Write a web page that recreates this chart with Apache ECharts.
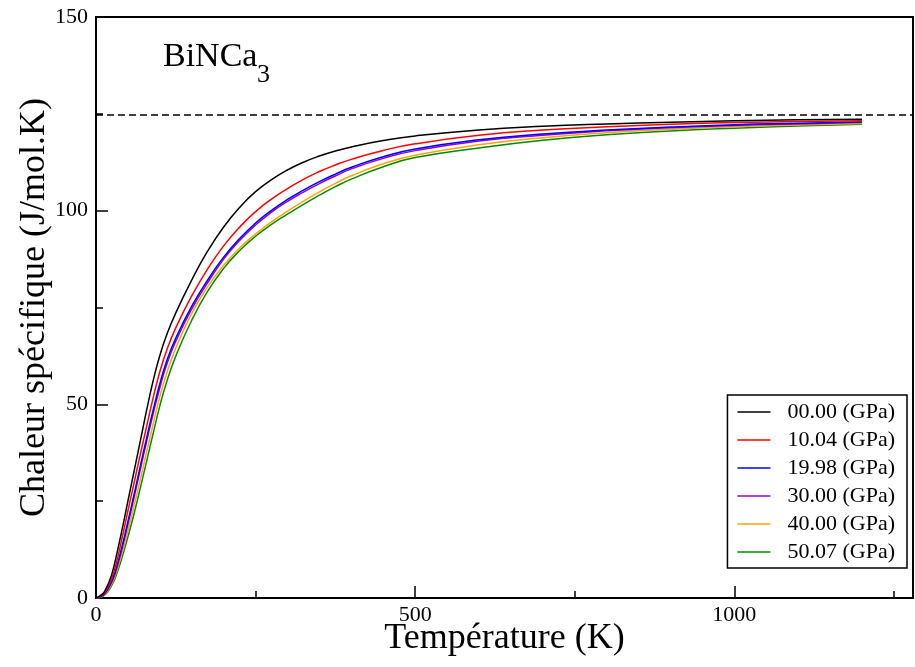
<!DOCTYPE html>
<html>
<head>
<meta charset="utf-8">
<script src="https://cdn.jsdelivr.net/npm/echarts@6/dist/echarts.min.js"></script>
<style>
  html, body { margin: 0; padding: 0; background: #fff; }
  #chart { width: 915px; height: 667px; }
</style>
</head>
<body>
<div id="chart"></div>
<script>
// Temperature grid (K)
const temperatures = [0, 10, 15, 20, 25, 30, 40, 50, 60, 70, 80, 90, 100, 110, 125, 150, 175, 200, 225, 250, 275, 300, 325, 350, 375, 400, 450, 500, 600, 700, 800, 900, 1000, 1100, 1200];

// Heat capacity Cv (J/mol.K) of BiNCa3 at each pressure
const cvP0000 = [0, 1.0, 2.2, 4.0, 6.3, 9.5, 17.0, 25.0, 33.0, 41.0, 49.0, 56.4, 62.6, 67.6, 73.6, 82.1, 89.6, 95.8, 100.85, 104.9, 108.0, 110.5, 112.5, 114.1, 115.4, 116.45, 118.1, 119.3, 120.85, 121.8, 122.4, 122.85, 123.2, 123.45, 123.6];
const cvP1004 = [0, 0.8, 1.8, 3.3, 5.2, 7.8, 14.8, 22.5, 30.0, 37.5, 44.8, 52.0, 58.4, 63.6, 69.75, 78.0, 85.0, 90.9, 95.75, 99.75, 103.0, 105.7, 108.1, 110.1, 111.8, 113.25, 115.55, 117.25, 119.45, 120.8, 121.65, 122.3, 122.75, 123.0, 123.2];
const cvP1998 = [0, 0.6, 1.5, 2.8, 4.5, 6.7, 12.8, 19.8, 27.0, 34.5, 41.8, 48.8, 55.3, 60.8, 67.1, 75.35, 82.1, 88.0, 92.8, 96.8, 100.1, 102.9, 105.3, 107.5, 109.45, 111.2, 113.9, 115.9, 118.3, 119.8, 120.8, 121.6, 122.2, 122.55, 122.9];
const cvP3000 = [0, 0.55, 1.4, 2.6, 4.2, 6.3, 12.2, 19.0, 26.2, 33.6, 40.9, 47.9, 54.3, 59.9, 66.3, 74.6, 81.4, 87.5, 92.3, 96.3, 99.6, 102.4, 104.8, 107.0, 108.95, 110.8, 113.5, 115.5, 118.0, 119.5, 120.6, 121.4, 122.0, 122.4, 122.8];
const cvP4000 = [0, 0.45, 1.15, 2.3, 3.8, 5.7, 11.1, 17.3, 24.0, 31.0, 38.2, 45.2, 52.0, 57.6, 64.5, 73.5, 80.4, 85.9, 90.35, 93.95, 97.1, 99.85, 102.45, 104.85, 107.05, 109.0, 112.1, 114.3, 117.0, 118.85, 120.1, 121.0, 121.65, 122.1, 122.5];
const cvP5007 = [0, 0.4, 1.0, 2.0, 3.4, 5.1, 10.0, 15.8, 22.0, 28.8, 35.8, 42.8, 49.6, 55.4, 62.45, 71.7, 79.2, 85.1, 89.7, 93.4, 96.45, 99.1, 101.65, 104.0, 106.2, 108.15, 111.35, 113.7, 116.2, 118.2, 119.6, 120.6, 121.3, 121.85, 122.3];

const pressureLabels = ['00.00 (GPa)', '10.04 (GPa)', '19.98 (GPa)', '30.00 (GPa)', '40.00 (GPa)', '50.07 (GPa)'];
const seriesColors = ['#000000', '#ff0000', '#0000ff', '#9400d3', '#ffa500', '#008b00'];
const cvSets = [cvP0000, cvP1004, cvP1998, cvP3000, cvP4000, cvP5007];

// Dulong-Petit limit 3nR
const dulongPetit = [124.7];

// Axis ranges and ticks
const xRange = [0, 1280];
const xMajorTicks = [0, 500, 1000];
const xMinorTicks = [250, 750, 1250];
const yRange = [0, 150];

const serif = "'Liberation Serif', 'Times New Roman', Times, serif";

const chart = echarts.init(document.getElementById('chart'), null, { renderer: 'canvas' });

const curveSeries = cvSets.map((vals, i) => ({
  name: pressureLabels[i],
  type: 'line',
  xAxisIndex: 0,
  yAxisIndex: 0,
  data: temperatures.map((t, k) => [t, vals[k]]),
  symbol: 'none',
  smooth: 0.5,
  color: seriesColors[i],
  lineStyle: { color: seriesColors[i], width: 1.5 },
  z: 3 + (cvSets.length - i)
}));

const limitSeries = {
  name: 'limit',
  type: 'line',
  xAxisIndex: 0,
  yAxisIndex: 0,
  data: [[xRange[0], dulongPetit[0]], [xRange[1], dulongPetit[0]]],
  symbol: 'none',
  silent: true,
  lineStyle: { color: '#000', width: 1.5, type: [7, 4] },
  z: 2
};

const option = {
  backgroundColor: '#fff',
  animation: false,
  grid: {
    left: 96, top: 17, right: 2, bottom: 69,
    outerBoundsMode: 'none',
    containLabel: false,
    show: true, borderColor: '#000', borderWidth: 2, backgroundColor: 'transparent'
  },
  xAxis: [
    {
      type: 'value', min: xRange[0], max: xRange[1], interval: 500,
      name: 'Température (K)', nameLocation: 'middle', nameGap: 23, nameMoveOverlap: false,
      nameTextStyle: { fontFamily: serif, fontSize: 36, color: '#000' },
      axisLine: { show: true, lineStyle: { color: '#000', width: 2 } },
      axisTick: { show: true, inside: true, length: 12, lineStyle: { color: '#000', width: 1.5 }, customValues: xMajorTicks },
      axisLabel: { fontFamily: serif, fontSize: 22, color: '#000', margin: 6, customValues: xMajorTicks, formatter: v => String(v) },
      splitLine: { show: false }
    },
    {
      type: 'value', min: xRange[0], max: xRange[1], position: 'bottom',
      axisLine: { show: false },
      axisTick: { show: true, inside: true, length: 7, lineStyle: { color: '#000', width: 1.5 }, customValues: xMinorTicks },
      axisLabel: { show: false },
      splitLine: { show: false }
    }
  ],
  yAxis: {
    type: 'value', min: yRange[0], max: yRange[1], interval: 50,
    name: 'Chaleur spécifique (J/mol.K)', nameLocation: 'middle', nameGap: 43, nameRotate: 90, nameMoveOverlap: false,
    nameTextStyle: { fontFamily: serif, fontSize: 36, color: '#000' },
    axisLine: { show: true, lineStyle: { color: '#000', width: 2 } },
    axisTick: { show: true, inside: true, length: 12, lineStyle: { color: '#000', width: 1.5 } },
    minorTick: { show: true, splitNumber: 2, length: 7, lineStyle: { color: '#000', width: 1.5 } },
    axisLabel: { fontFamily: serif, fontSize: 22, color: '#000', margin: 8, formatter: v => String(v) },
    splitLine: { show: false },
    minorSplitLine: { show: false }
  },
  legend: {
    data: pressureLabels,
    orient: 'vertical',
    right: 8,
    top: 395,
    icon: 'rect',
    itemWidth: 33,
    itemHeight: 1.5,
    itemGap: 6,
    padding: [6, 12, 5, 10],
    borderColor: '#000',
    borderWidth: 1.5,
    borderRadius: 0,
    backgroundColor: '#fff',
    textStyle: { fontFamily: serif, fontSize: 22, color: '#000', lineHeight: 22, padding: [0, 0, 0, 12] }
  },
  graphic: [
    {
      type: 'text', left: 163, top: 40,
      style: { text: 'BiNCa', font: "34px 'Liberation Serif', 'Times New Roman', serif", fill: '#000' }
    },
    {
      type: 'text', left: 257, top: 62,
      style: { text: '3', font: "26px 'Liberation Serif', 'Times New Roman', serif", fill: '#000' }
    }
  ],
  series: [limitSeries, ...curveSeries]
};

chart.setOption(option);
</script>
</body>
</html>
